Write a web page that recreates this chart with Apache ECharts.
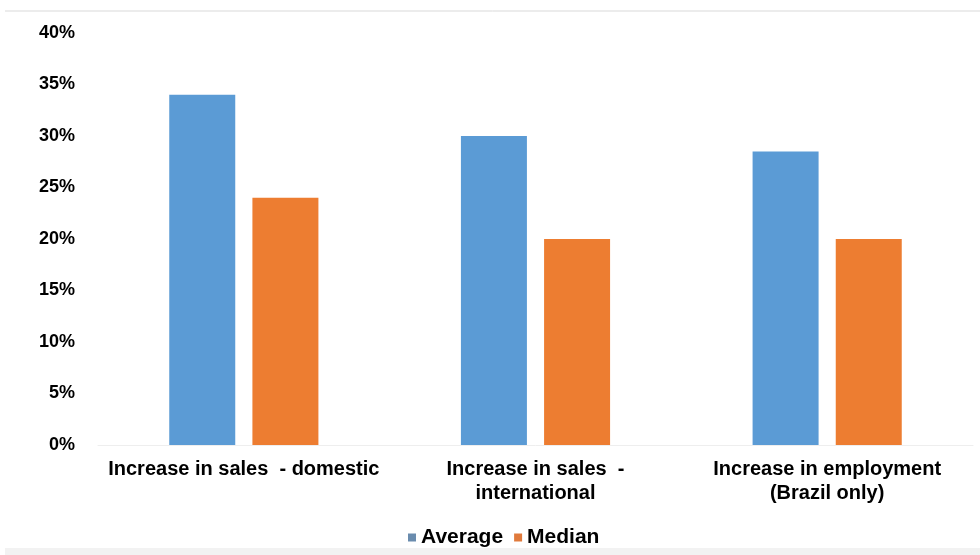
<!DOCTYPE html>
<html>
<head>
<meta charset="utf-8">
<script src="https://cdn.jsdelivr.net/npm/echarts@6/dist/echarts.min.js"></script>
<style>
  html, body { margin: 0; padding: 0; background: #ffffff; }
  #chart { width: 980px; height: 555px; }
</style>
</head>
<body>
<div id="chart"></div>
<script>
// Survey outcomes (percent)
const categories = [
  'Increase in sales  - domestic',
  'Increase in sales  -\ninternational',
  'Increase in employment\n(Brazil only)'
];
const averageValues = [34, 30, 28.5];
const medianValues = [24, 20, 20];
const yTicks = [0, 5, 10, 15, 20, 25, 30, 35, 40];

const chart = echarts.init(document.getElementById('chart'));
const font = '"Liberation Sans", Arial, sans-serif';

chart.setOption({
  backgroundColor: '#ffffff',
  animation: false,
  graphic: [
    { type: 'line', shape: { x1: 5, y1: 11, x2: 980, y2: 11 },
      style: { stroke: '#d9d9d9', lineWidth: 1 } },
    { type: 'rect', shape: { x: 5, y: 548, width: 975, height: 7 },
      style: { fill: '#f2f2f2' } }
  ],
  grid: { left: 98, right: 7, top: 33, bottom: 110 },
  legend: {
    top: 522,
    left: 403,
    itemWidth: 8,
    itemHeight: 8,
    itemGap: 11,
    icon: 'rect',
    textStyle: { fontFamily: font, fontWeight: 'bold', fontSize: 21, color: '#000' },
    data: [
      { name: 'Average', itemStyle: { color: '#6a8cae' } },
      { name: 'Median', itemStyle: { color: '#e07a3c' } }
    ]
  },
  xAxis: {
    type: 'category',
    data: categories,
    axisTick: { show: false },
    axisLine: { show: true, lineStyle: { color: '#eeeeee' } },
    axisLabel: {
      interval: 0,
      margin: 12,
      fontFamily: font,
      fontWeight: 'bold',
      fontSize: 20,
      lineHeight: 24,
      color: '#000'
    }
  },
  yAxis: {
    type: 'value',
    min: yTicks[0],
    max: yTicks[yTicks.length - 1],
    interval: 5,
    splitLine: { show: false },
    axisLine: { show: false },
    axisTick: { show: false },
    axisLabel: {
      margin: 23,
      fontFamily: font,
      fontWeight: 'bold',
      fontSize: 18,
      color: '#000',
      formatter: v => v + '%'
    }
  },
  series: [
    {
      name: 'Average',
      type: 'bar',
      data: averageValues,
      barWidth: 66,
      barGap: '26%',
      itemStyle: { color: '#5b9bd5' }
    },
    {
      name: 'Median',
      type: 'bar',
      data: medianValues,
      barWidth: 66,
      itemStyle: { color: '#ed7d31' }
    }
  ]
});
</script>
</body>
</html>
